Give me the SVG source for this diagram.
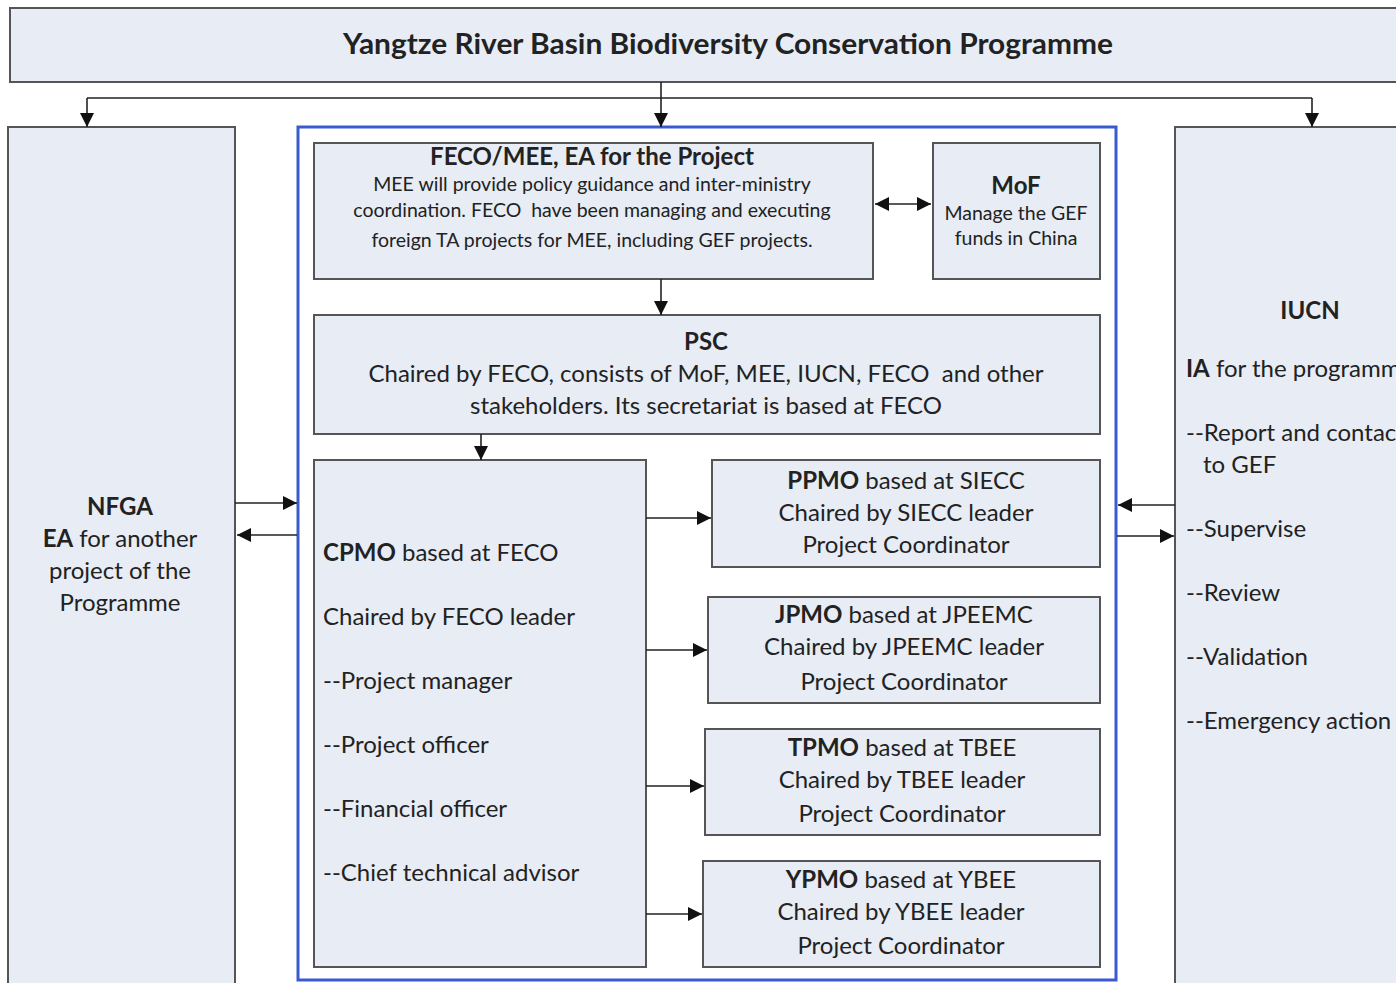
<svg xmlns="http://www.w3.org/2000/svg" width="1396" height="983" viewBox="0 0 1396 983">
<style>
.box{fill:#e7ecf5;stroke:#555;stroke-width:2}
.blue{fill:none;stroke:#3a5bd0;stroke-width:3}
.t{font-family:Lato,"Open Sans",sans-serif;font-size:24px;fill:#222;white-space:pre}
.c{text-anchor:middle}
.b{font-weight:bold}
.s{font-size:19.5px}
.ln{fill:none;stroke:#222;stroke-width:1.6}
</style>
<defs>
<marker id="ahL" viewBox="0 0 12 12" refX="12" refY="6" markerWidth="18" markerHeight="14" markerUnits="userSpaceOnUse" orient="auto-start-reverse">
<path d="M0,0 L12,6 L0,12 z" fill="#111"/>
</marker>
</defs>
<rect width="1396" height="983" fill="#fff"/>

<g id="programme">
<rect class="box" x="10" y="8" width="1400" height="74"/>
<text class="t c b" x="728" y="54" style="font-size:28.5px" textLength="770" lengthAdjust="spacingAndGlyphs">Yangtze River Basin Biodiversity Conservation Programme</text>
</g>

<g id="nfga">
<rect class="box" x="8" y="127" width="227" height="870"/>
<text class="t c b" x="120" y="515">NFGA</text>
<text class="t c" x="120" y="547"><tspan class="b">EA</tspan> for another</text>
<text class="t c" x="120" y="579">project of the</text>
<text class="t c" x="120" y="611">Programme</text>
</g>

<g id="project">
<rect class="blue" x="298" y="127" width="818" height="853"/>
</g>

<g id="feco">
<rect class="box" x="314" y="143" width="559" height="136"/>
<text class="t c b" x="592" y="165">FECO/MEE, EA for the Project</text>
<text class="t c s" x="592" y="191">MEE will provide policy guidance and inter-ministry</text>
<text class="t c s" x="592" y="217">coordination. FECO  have been managing and executing</text>
<text class="t c s" x="592" y="247">foreign TA projects for MEE, including GEF projects.</text>
</g>

<g id="mof">
<rect class="box" x="933" y="143" width="167" height="136"/>
<text class="t c b" x="1016" y="194">MoF</text>
<text class="t c s" x="1016" y="220">Manage the GEF</text>
<text class="t c s" x="1016" y="245">funds in China</text>
</g>

<g id="psc">
<rect class="box" x="314" y="315" width="786" height="119"/>
<text class="t c b" x="706" y="350">PSC</text>
<text class="t c" x="706" y="382">Chaired by FECO, consists of MoF, MEE, IUCN, FECO  and other</text>
<text class="t c" x="706" y="414">stakeholders. Its secretariat is based at FECO</text>
</g>

<g id="cpmo">
<rect class="box" x="314" y="460" width="332" height="507"/>
<text class="t" x="323" y="561"><tspan class="b">CPMO</tspan> based at FECO</text>
<text class="t" x="323" y="625">Chaired by FECO leader</text>
<text class="t" x="323" y="689">--Project manager</text>
<text class="t" x="323" y="753">--Project officer</text>
<text class="t" x="323" y="817">--Financial officer</text>
<text class="t" x="323" y="881">--Chief technical advisor</text>
</g>

<g id="ppmo">
<rect class="box" x="712" y="460" width="388" height="107"/>
<text class="t c" x="906" y="489"><tspan class="b">PPMO</tspan> based at SIECC</text>
<text class="t c" x="906" y="521">Chaired by SIECC leader</text>
<text class="t c" x="906" y="553">Project Coordinator</text>
</g>

<g id="jpmo">
<rect class="box" x="708" y="597" width="392" height="106"/>
<text class="t c" x="904" y="623"><tspan class="b">JPMO</tspan> based at JPEEMC</text>
<text class="t c" x="904" y="655">Chaired by JPEEMC leader</text>
<text class="t c" x="904" y="690">Project Coordinator</text>
</g>

<g id="tpmo">
<rect class="box" x="705" y="729" width="395" height="106"/>
<text class="t c" x="902" y="756"><tspan class="b">TPMO</tspan> based at TBEE</text>
<text class="t c" x="902" y="788">Chaired by TBEE leader</text>
<text class="t c" x="902" y="822">Project Coordinator</text>
</g>

<g id="ypmo">
<rect class="box" x="703" y="861" width="397" height="106"/>
<text class="t c" x="901" y="888"><tspan class="b">YPMO</tspan> based at YBEE</text>
<text class="t c" x="901" y="920">Chaired by YBEE leader</text>
<text class="t c" x="901" y="954">Project Coordinator</text>
</g>

<g id="iucn">
<rect class="box" x="1175" y="127" width="240" height="870"/>
<text class="t c b" x="1310" y="319">IUCN</text>
<text class="t" x="1186" y="377"><tspan class="b">IA</tspan> for the programme</text>
<text class="t" x="1186" y="441">--Report and contact</text>
<text class="t" x="1203" y="473">to GEF</text>
<text class="t" x="1186" y="537">--Supervise</text>
<text class="t" x="1186" y="601">--Review</text>
<text class="t" x="1186" y="665">--Validation</text>
<text class="t" x="1186" y="729">--Emergency action</text>
</g>

<g id="connectors">
<path class="ln" d="M661,82 V127" marker-end="url(#ahL)"/>
<path class="ln" d="M87,98 H1312"/>
<path class="ln" d="M87,98 V127" marker-end="url(#ahL)"/>
<path class="ln" d="M1312,98 V127" marker-end="url(#ahL)"/>
<path class="ln" d="M875,204 H931" marker-start="url(#ahL)" marker-end="url(#ahL)"/>
<path class="ln" d="M661,279 V315" marker-end="url(#ahL)"/>
<path class="ln" d="M481,434 V460" marker-end="url(#ahL)"/>
<path class="ln" d="M235,503 H297" marker-end="url(#ahL)"/>
<path class="ln" d="M297,535 H237" marker-end="url(#ahL)"/>
<path class="ln" d="M1175,505 H1118" marker-end="url(#ahL)"/>
<path class="ln" d="M1117,536 H1174" marker-end="url(#ahL)"/>
<path class="ln" d="M646,518 H711" marker-end="url(#ahL)"/>
<path class="ln" d="M646,650 H707" marker-end="url(#ahL)"/>
<path class="ln" d="M646,786 H704" marker-end="url(#ahL)"/>
<path class="ln" d="M646,914 H702" marker-end="url(#ahL)"/>
</g>
</svg>
